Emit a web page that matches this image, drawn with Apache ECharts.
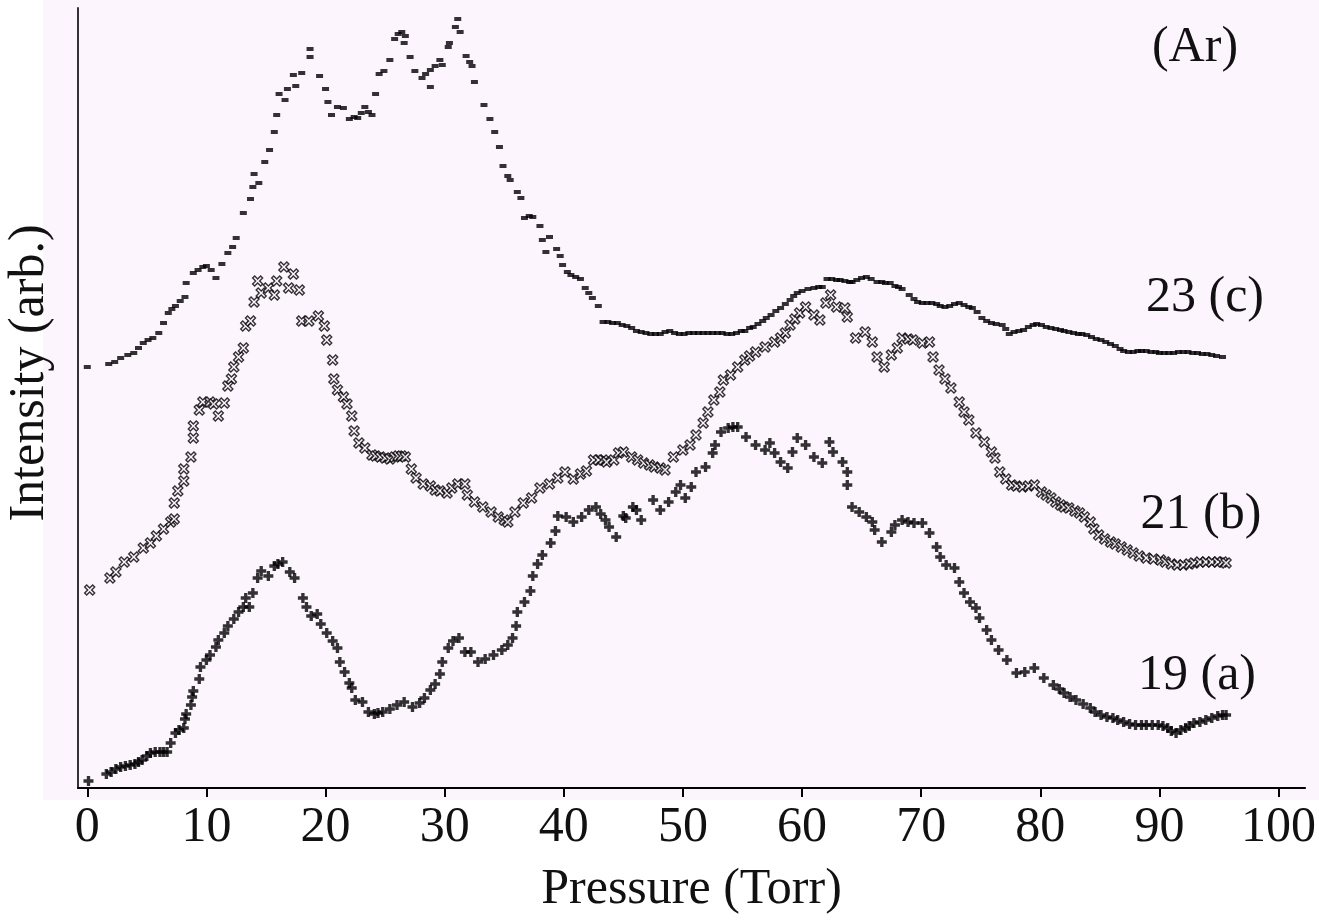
<!DOCTYPE html>
<html><head><meta charset="utf-8">
<script src="https://cdn.jsdelivr.net/npm/echarts@6/dist/echarts.min.js"></script>
<style>html,body{margin:0;padding:0;background:#fff}#chart{width:1319px;height:921px}</style>
</head><body><div id="chart"></div>
<script>
// Pressure tick values (Torr)
const xTicks = [0,10,20,30,40,50,60,70,80,90,100];
// Curve labels
const curveNames = ['(Ar)', '23 (c)', '21 (b)', '19 (a)'];
const xTitle = 'Pressure (Torr)';
const yTitle = 'Intensity (arb.)';

// 19 (a): [pressure, intensity]
const seriesA = [[0.1,7],[1.6,14],[2.0,16],[2.4,19],[2.8,21],[3.2,22],[3.6,23],[4.0,24],[4.3,26],[4.6,28],[5.0,32],[5.3,35],[5.7,36],[6.1,36],[6.4,36],[6.7,36],[7.0,45],[7.4,55],[7.7,58],[8.1,60],[8.2,69],[8.3,74],[8.7,83],[8.8,91],[8.9,97],[9.4,109],[9.5,121],[10.0,128],[10.3,133],[10.8,141],[11.0,148],[11.5,155],[11.8,162],[12.3,169],[12.7,176],[13.1,181],[13.6,181],[13.3,190],[13.9,195],[14.3,210],[14.6,217],[15.2,212],[15.7,222],[16.0,224],[16.4,226],[17.0,216],[17.4,210],[18.1,190],[18.4,181],[18.8,172],[19.3,174],[19.6,164],[20.1,155],[20.6,147],[21.0,140],[21.2,126],[21.6,116],[22.0,105],[22.2,100],[22.5,88],[23.1,86],[23.6,76],[24.1,74],[24.4,75],[24.8,76],[25.4,79],[26.0,83],[26.6,86],[27.3,81],[27.9,85],[28.3,90],[28.8,98],[29.2,104],[29.6,114],[29.8,126],[30.3,140],[30.7,147],[31.2,150],[31.7,136],[32.2,136],[32.8,126],[33.4,129],[34.1,133],[34.8,138],[35.3,143],[35.7,150],[36.0,162],[36.1,176],[36.7,186],[37.2,197],[37.4,212],[37.8,224],[38.2,233],[38.9,245],[39.3,257],[39.5,272],[40.2,271],[40.8,266],[41.5,271],[42.1,278],[42.7,281],[43.1,274],[43.5,268],[43.8,261],[44.4,251],[45.0,272],[45.2,270],[45.8,281],[46.1,278],[46.5,268],[47.5,288],[48.1,278],[48.8,286],[49.4,296],[49.8,303],[50.2,290],[50.7,301],[51.1,316],[51.9,321],[52.5,335],[52.7,343],[53.2,356],[53.8,360],[54.2,361],[54.6,361],[55.3,351],[56.1,343],[56.9,338],[57.3,345],[57.7,335],[58.2,326],[58.8,320],[59.2,336],[59.6,350],[60.3,343],[61.0,331],[61.7,325],[62.3,346],[62.6,336],[63.4,326],[63.8,316],[63.8,303],[64.2,281],[64.8,276],[65.4,271],[65.9,266],[66.1,258],[66.7,246],[67.5,256],[67.8,263],[68.4,268],[68.9,266],[69.4,265],[70.1,265],[70.7,255],[71.3,241],[71.6,231],[72.1,223],[72.8,220],[73.2,206],[73.6,195],[74.1,186],[74.6,180],[74.9,170],[75.5,158],[75.9,148],[76.5,138],[77.2,128],[78.0,115],[78.7,116],[79.5,120],[80.3,110],[81.1,103],[81.6,99],[82.0,95],[82.5,91],[83.0,88],[83.6,84],[84.2,80],[84.6,76],[85.1,73],[85.6,71],[86.1,70],[86.5,68],[87.0,66],[87.5,64],[88.0,63],[88.5,63],[88.9,63],[89.4,63],[89.9,63],[90.3,62],[90.7,60],[91.0,57],[91.4,55],[91.8,58],[92.2,60],[92.5,62],[92.9,65],[93.4,66],[93.9,68],[94.4,70],[94.9,72],[95.3,73],[95.6,73]];

// 21 (b)
const seriesB = [[0.2,198],[1.9,210],[2.4,216],[3.1,226],[3.9,231],[4.7,240],[5.3,245],[5.8,252],[6.4,259],[7.0,266],[7.3,269],[7.3,285],[7.6,297],[8.1,307],[8.1,319],[8.7,331],[8.9,350],[8.9,362],[9.4,378],[9.7,386],[10.3,386],[10.6,384],[11.0,372],[11.5,385],[11.8,402],[12.1,409],[12.3,421],[12.7,431],[13.1,440],[13.3,462],[13.7,467],[14.0,486],[14.3,507],[14.6,495],[15.2,500],[15.7,493],[15.9,507],[16.5,521],[16.9,500],[17.3,514],[17.8,498],[18.0,467],[18.6,467],[19.4,472],[19.9,462],[20.1,448],[20.6,428],[20.7,409],[21.0,398],[21.5,391],[21.8,384],[22.2,372],[22.4,357],[22.8,345],[23.3,340],[23.9,333],[24.2,332],[24.6,331],[25.0,330],[25.4,329],[25.8,331],[26.1,332],[26.4,332],[26.7,331],[27.2,319],[27.6,310],[28.2,304],[28.8,302],[29.2,298],[29.6,297],[30.2,295],[30.6,300],[31.1,304],[31.7,304],[31.9,293],[32.5,286],[33.2,281],[33.9,276],[34.5,271],[35.0,268],[35.3,266],[35.9,276],[36.6,285],[37.3,290],[38.0,300],[38.8,304],[39.5,310],[40.1,316],[40.8,309],[41.4,314],[41.9,317],[42.5,328],[42.9,328],[43.3,328],[43.6,326],[44.2,328],[44.6,335],[45.0,336],[45.7,331],[46.2,328],[46.7,325],[47.2,323],[47.6,321],[48.1,320],[48.5,318],[49.2,331],[50.0,338],[50.6,343],[51.1,353],[51.7,365],[52.1,376],[52.6,388],[53.1,396],[53.4,408],[54.0,413],[54.6,421],[55.2,428],[55.6,432],[56.1,436],[56.9,441],[57.7,446],[58.2,450],[58.6,455],[59.0,463],[59.4,469],[59.8,475],[60.3,481],[61.0,473],[61.5,468],[62.0,485],[62.4,493],[62.9,481],[63.6,480],[63.8,471],[64.5,450],[65.3,456],[65.9,446],[66.3,431],[66.9,421],[67.5,433],[68.0,440],[68.4,450],[68.9,449],[69.3,448],[70.1,445],[70.7,446],[71.0,431],[71.5,418],[72.0,409],[72.5,400],[73.2,386],[73.6,376],[74.0,368],[74.6,355],[75.3,346],[75.9,336],[76.2,330],[76.6,316],[77.1,309],[77.6,303],[78.0,302],[78.5,301],[79.0,302],[79.5,303],[80.1,296],[80.5,293],[80.9,290],[81.3,286],[81.7,283],[82.0,281],[82.4,280],[82.9,277],[83.3,275],[83.7,271],[84.2,266],[84.5,259],[84.9,253],[85.4,249],[85.9,246],[86.3,244],[86.8,241],[87.3,238],[87.8,235],[88.3,232],[88.9,230],[89.5,229],[90.1,228],[90.5,226],[91.0,224],[91.5,223],[92.0,223],[92.5,224],[92.9,225],[93.4,226],[93.9,226],[94.4,226],[94.9,226],[95.3,226],[95.6,225]];

// 23 (c)
const seriesC = [[0.0,421],[1.8,424],[2.3,426],[2.8,430],[3.4,433],[3.9,435],[4.3,440],[4.7,445],[5.1,448],[5.5,450],[6.0,455],[6.4,465],[6.8,475],[7.1,479],[7.4,482],[7.8,487],[8.2,491],[8.3,505],[8.9,515],[9.3,518],[9.7,521],[10.0,522],[10.4,518],[10.8,510],[11.3,524],[11.8,535],[12.2,541],[12.5,550],[13.1,575],[13.7,589],[13.9,601],[14.4,605],[14.0,614],[14.9,626],[15.3,638],[15.7,656],[15.9,673],[16.1,694],[16.6,688],[16.8,699],[17.3,713],[17.5,702],[18.0,715],[18.7,731],[18.7,739],[19.5,712],[20.0,699],[20.2,686],[20.5,673],[21.0,681],[21.5,680],[22.0,669],[22.4,671],[22.7,670],[23.0,675],[23.3,681],[23.6,676],[23.9,673],[24.2,694],[24.5,714],[24.9,717],[25.4,728],[25.8,749],[26.1,754],[26.4,756],[26.7,752],[26.6,745],[27.1,731],[27.5,717],[28.1,710],[28.4,714],[28.8,718],[28.8,701],[29.2,722],[29.6,728],[29.8,723],[30.3,741],[30.4,745],[30.9,761],[31.1,769],[31.3,756],[31.8,732],[32.1,726],[32.3,722],[32.5,706],[33.3,683],[33.8,669],[34.2,656],[34.6,641],[34.9,622],[35.3,612],[35.5,608],[36.1,596],[36.4,590],[36.7,570],[37.1,572],[37.4,571],[38.0,562],[38.2,548],[38.8,551],[38.5,536],[39.4,539],[39.7,532],[39.9,523],[40.3,516],[40.6,513],[41.0,511],[41.4,509],[41.8,500],[42.1,495],[42.4,490],[42.9,482],[43.3,466],[43.7,466],[44.1,465],[44.5,465],[44.9,463],[45.3,462],[45.7,460],[46.1,457],[46.5,456],[46.9,455],[47.3,454],[47.7,454],[48.1,454],[48.5,456],[48.9,457],[49.3,455],[49.7,454],[50.1,454],[50.5,455],[50.9,455],[51.3,455],[51.7,455],[52.1,455],[52.5,455],[52.9,455],[53.3,455],[53.7,454],[54.1,454],[54.5,455],[54.9,457],[55.2,457],[55.6,460],[55.9,461],[56.3,464],[56.7,467],[57.0,470],[57.4,473],[57.8,477],[58.2,480],[58.6,484],[59.0,488],[59.3,492],[59.6,495],[60.0,497],[60.5,499],[61.0,500],[61.4,501],[61.7,501],[62.1,509],[62.5,509],[62.9,508],[63.2,508],[63.6,507],[64.0,506],[64.2,506],[64.6,508],[65.0,510],[65.4,511],[65.8,509],[66.3,506],[66.7,506],[67.0,505],[67.4,505],[67.8,502],[68.1,501],[68.4,499],[69.0,493],[69.4,489],[69.7,486],[70.1,485],[70.5,485],[70.9,485],[71.3,484],[71.6,482],[72.0,481],[72.4,482],[72.8,484],[73.2,485],[73.6,483],[74.0,481],[74.3,480],[74.7,476],[75.1,470],[75.5,467],[75.9,465],[76.3,464],[76.8,463],[77.1,459],[77.4,454],[77.8,456],[78.2,457],[78.6,458],[79.0,461],[79.4,463],[79.7,464],[80.1,463],[80.5,461],[80.9,460],[81.3,459],[81.7,458],[82.0,457],[82.4,456],[82.8,455],[83.2,454],[83.5,454],[83.9,453],[84.3,451],[84.7,449],[85.1,448],[85.5,446],[85.9,444],[86.3,442],[86.7,439],[87.0,437],[87.4,436],[87.8,436],[88.2,437],[88.5,437],[88.9,437],[89.3,436],[89.7,436],[90.0,435],[90.4,435],[90.8,435],[91.2,435],[91.6,436],[92.0,436],[92.4,436],[92.8,435],[93.2,435],[93.6,434],[94.0,434],[94.4,433],[94.8,432],[95.3,431]];

const FONT = '"Liberation Serif", "Times New Roman", serif';
const PINK = '#fdf5fd';
const chart = echarts.init(document.getElementById('chart'), null, {renderer: 'canvas'});
const plusPath = 'path://M3,0 L6,0 L6,3 L9,3 L9,6 L6,6 L6,9 L3,9 L3,6 L0,6 L0,3 L3,3 Z';
const xPath = 'path://M0,2 L2,0 L5,3 L8,0 L10,2 L7,5 L10,8 L8,10 L5,7 L2,10 L0,8 L3,5 Z';
const labelStyle = {font: '50px ' + FONT, fill: '#111', align: 'center', verticalAlign: 'middle', textAlign: 'center', textVerticalAlign: 'middle'};

chart.setOption({
  animation: false,
  backgroundColor: '#ffffff',
  grid: {left: 78, right: 9, top: 8, bottom: 133, containLabel: false},
  xAxis: {
    type: 'value', min: -0.78, max: 102.23,
    name: xTitle, nameLocation: 'middle', nameGap: 77,
    nameTextStyle: {fontFamily: FONT, fontSize: 50, color: '#111'},
    axisLine: {show: true, onZero: false, lineStyle: {color: '#000', width: 2}},
    axisTick: {show: true, inside: false, length: 9, customValues: xTicks, lineStyle: {color: '#000', width: 2}},
    axisLabel: {show: true, customValues: xTicks, margin: 15, fontFamily: FONT, fontSize: 50, color: '#111'},
    splitLine: {show: false}
  },
  yAxis: {
    type: 'value', min: 0, max: 780,
    axisLine: {show: true, onZero: false, lineStyle: {color: '#333', width: 2}},
    axisTick: {show: false}, axisLabel: {show: false}, splitLine: {show: false}
  },
  graphic: [
    {type: 'rect', left: 43, top: 0, z: -100, silent: true, shape: {width: 1276, height: 800}, style: {fill: PINK}},
    {type: 'text', x: 30, y: 373, rotation: Math.PI / 2, style: Object.assign({text: yTitle}, labelStyle)},
    {type: 'text', x: 1195, y: 48, style: Object.assign({text: curveNames[0]}, labelStyle)},
    {type: 'text', x: 1205, y: 298, style: Object.assign({text: curveNames[1]}, labelStyle)},
    {type: 'text', x: 1201, y: 515, style: Object.assign({text: curveNames[2]}, labelStyle)},
    {type: 'text', x: 1197, y: 676, style: Object.assign({text: curveNames[3]}, labelStyle)}
  ],
  series: [
    {type: 'scatter', name: curveNames[3], data: seriesA, symbol: plusPath, symbolSize: 10,
     itemStyle: {color: '#000'}},
    {type: 'scatter', name: curveNames[2], data: seriesB, symbol: xPath, symbolSize: 10,
     itemStyle: {color: PINK, borderColor: '#000', borderWidth: 1.4}},
    {type: 'scatter', name: curveNames[1], data: seriesC, symbol: 'rect', symbolSize: [7, 4],
     itemStyle: {color: '#000'}}
  ]
});
</script></body></html>
